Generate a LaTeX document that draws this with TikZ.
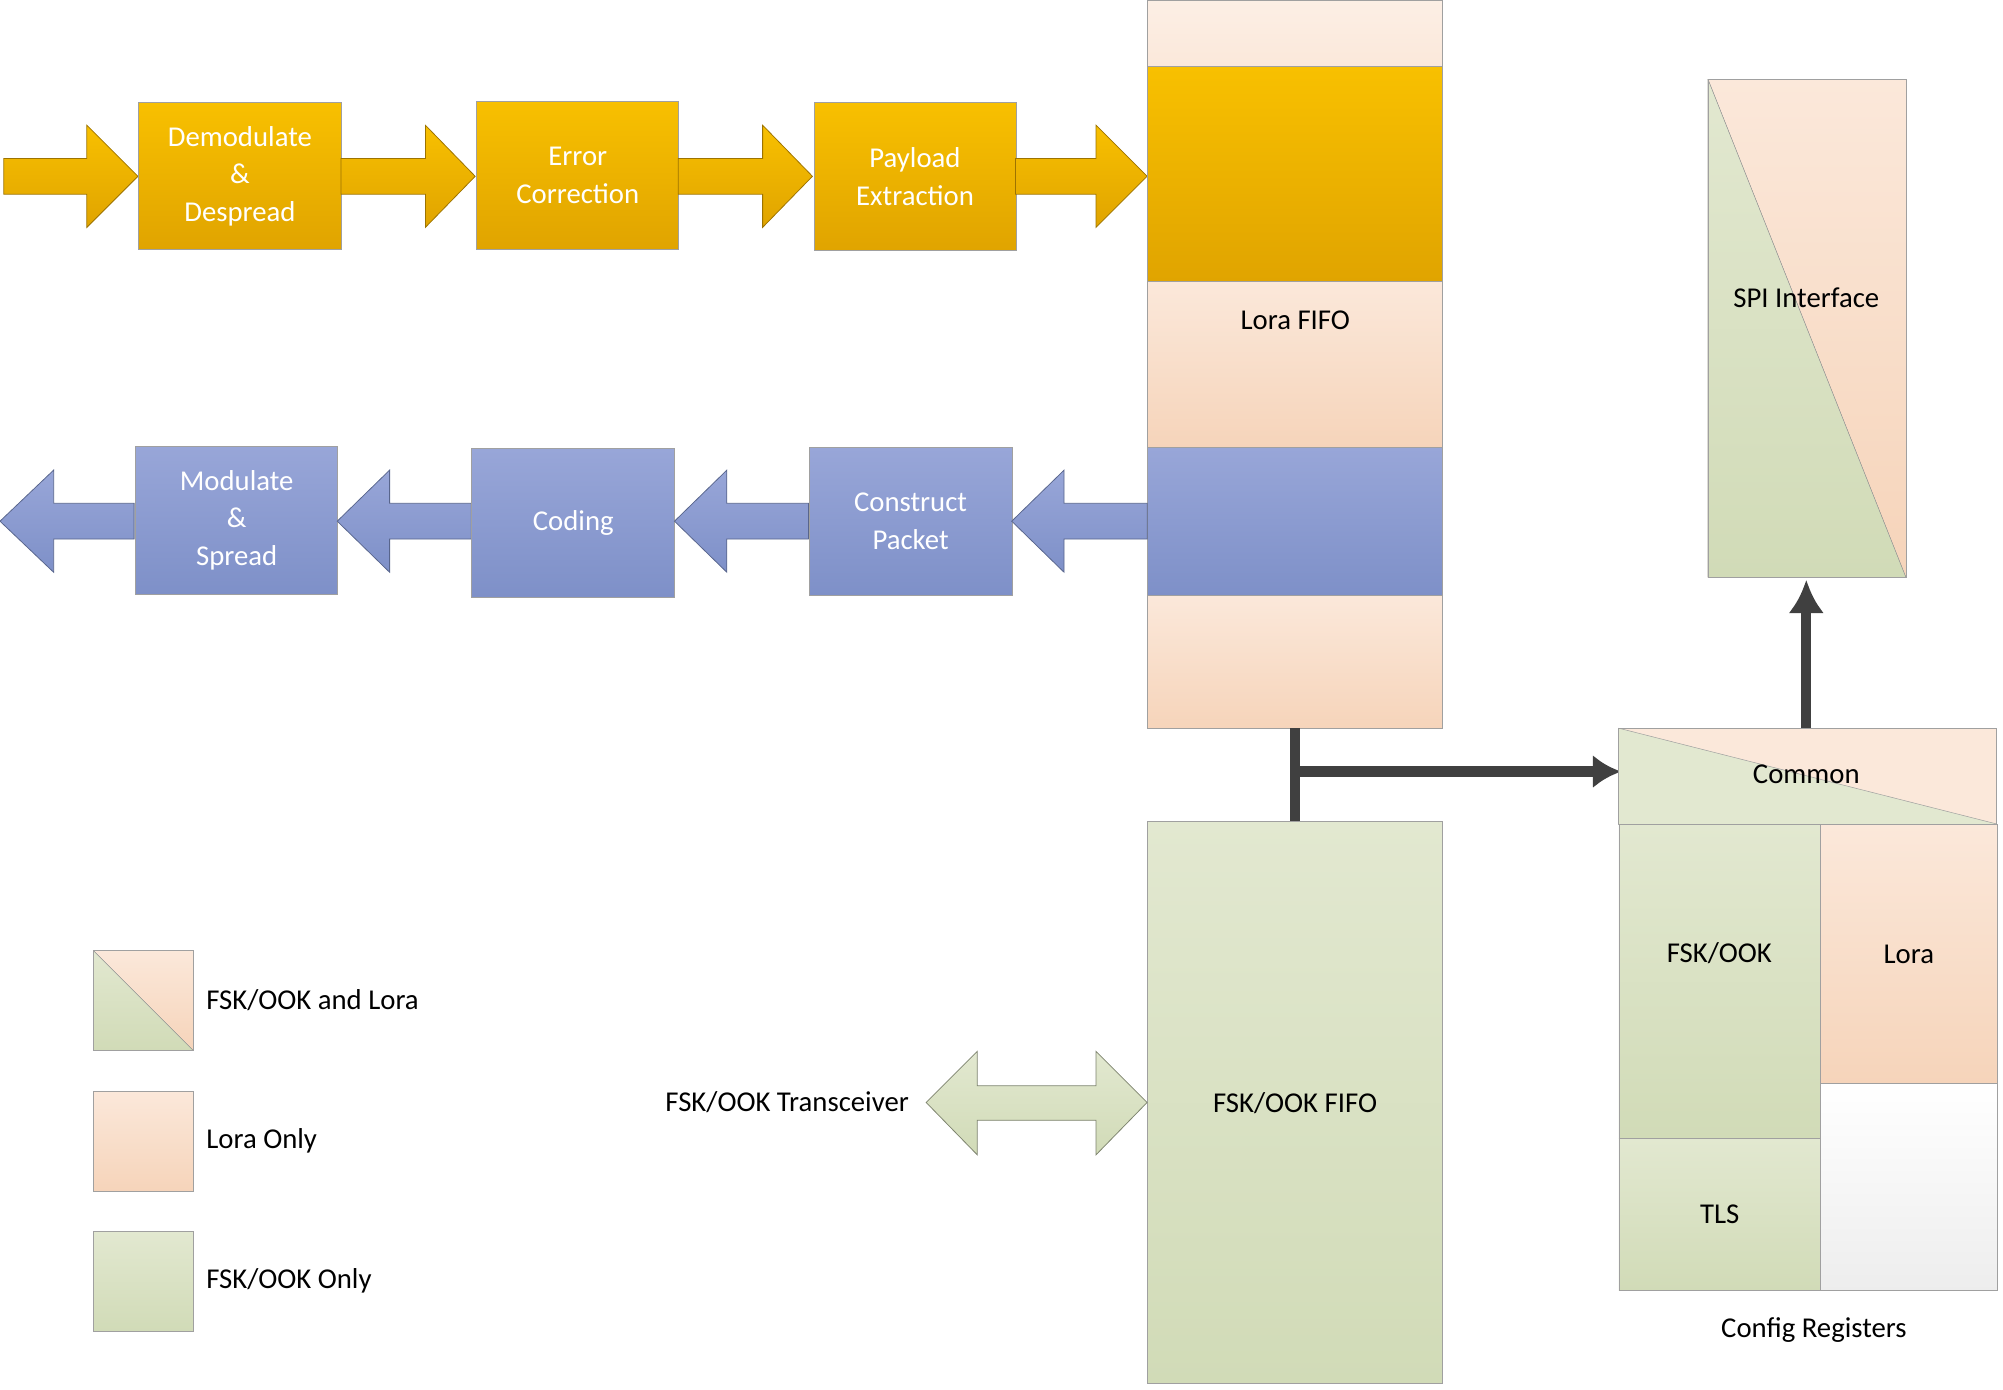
\documentclass[tikz,border=0pt]{standalone}
\usepackage{fontspec}
\setmainfont{Carlito}
\usetikzlibrary{arrows.meta}
\begin{document}
\definecolor{orT}{HTML}{F8C000}\definecolor{orB}{HTML}{E0A400}
\definecolor{blT}{HTML}{98A6D8}\definecolor{blB}{HTML}{7E90C8}
\definecolor{peT}{HTML}{FBE8DA}\definecolor{peB}{HTML}{F6D4BA}
\definecolor{grT}{HTML}{E2E8D0}\definecolor{grB}{HTML}{D1DBB7}
\definecolor{edge}{HTML}{A0A0A0}
\newcommand\myRA[5]{\path[draw=#5B!70!black,line width=0.6pt,top color=#5T,bottom color=#5B] (#1,#4-14)--(#3,#4-14)--(#3,#4-40)--(#2,#4)--(#3,#4+40)--(#3,#4+14)--(#1,#4+14)--cycle;}
\newcommand\myLA[5]{\path[draw=#5B!70!black,line width=0.6pt,top color=#5T,bottom color=#5B] (#2,#4-14)--(#3,#4-14)--(#3,#4-40)--(#1,#4)--(#3,#4+40)--(#3,#4+14)--(#2,#4+14)--cycle;}
\begin{tikzpicture}[x=1pt,y=-1pt,font=\fontsize{22.5}{29.5}\selectfont,
 box/.style={draw=edge,line width=0.6pt,anchor=north west,inner sep=0,align=center},
 or/.style={box,top color=orT,bottom color=orB,text=white},
 bl/.style={box,top color=blT,bottom color=blB,text=white},
 pe/.style={box,top color=peT,bottom color=peB},
 gr/.style={box,top color=grT,bottom color=grB},
 conn/.style={line width=8pt,draw=black!75}]
\useasboundingbox (0,0) rectangle (1568,1088);
% top row
\myRA{3}{108}{68}{138}{or}
\node[or,minimum width=159,minimum height=115] (dem) at (108,80) {Demodulate\\\&\\Despread};
\myRA{267}{372}{333}{138}{or}
\node[or,minimum width=158,minimum height=116] (err) at (373,79) {Error\\Correction};
\myRA{531}{636}{597}{138}{or}
\node[or,minimum width=158,minimum height=116] (pay) at (637,80) {Payload\\Extraction};
\myRA{795}{898}{858}{138}{or}
% Lora FIFO column
\node[box,top color=peT!70,bottom color=peT,minimum width=231,minimum height=52] (t0) at (898,0) {};
\node[or,minimum width=231,minimum height=168] (t1) at (898,52) {};
\node[pe,minimum width=231,minimum height=130,text=black] (lf) at (898,220) {};
\node at (1014,251) {Lora FIFO};
\node[bl,minimum width=231,minimum height=116] (t3) at (898,350) {};
\node[pe,minimum width=231,minimum height=104] (t4) at (898,466) {};
% blue row
\myLA{0}{105}{42}{408}{bl}
\node[bl,minimum width=158,minimum height=116] (mod) at (106,349) {Modulate\\\&\\Spread};
\myLA{264}{369}{305}{408}{bl}
\node[bl,minimum width=159,minimum height=116] (cod) at (369,351) {Coding};
\myLA{528}{633}{569}{408}{bl}
\node[bl,minimum width=159,minimum height=116] (con) at (633,350) {Construct\\Packet};
\myLA{792}{898}{833}{408}{bl}
% FSK FIFO
\node[gr,minimum width=231,minimum height=440] (ff) at (898,643) {FSK/OOK FIFO};
\path[draw=grB!60!black,line width=0.6pt,top color=grT,bottom color=grB] (765,850)--(858,850)--(858,823)--(898,863)--(858,904)--(858,877)--(765,877)--(765,904)--(725,863)--(765,823)--cycle;
\node[anchor=east] (tr) at (715,863) {FSK/OOK Transceiver};
% connectors
\coordinate (j) at (1014,604);
\draw[conn] (1014,570)--(1014,643);
\draw[conn,-{Latex[length=22pt,width=26pt]}] (j)--(1269,604);
% config registers
\fill[peT] (1267,570) rectangle (1563,645);
\fill[grT] (1267,570)--(1563,645)--(1267,645)--cycle;
\draw[edge] (1267,570)--(1563,645);
\draw[edge] (1267,570) rectangle (1563,645);
\node (com) at (1414,606) {Common};
\node[gr,minimum width=158,minimum height=246] (fsk) at (1267,645) {};
\node at (1346,746) {FSK/OOK};
\node[pe,minimum width=138,minimum height=203] (lo) at (1425,645) {Lora};
\node[box,top color=white,bottom color=black!7,minimum width=138,minimum height=162] (wh) at (1425,848) {};
\node[gr,minimum width=158,minimum height=119] (tls) at (1267,891) {TLS};
\node (cr) at (1420,1041) {Config Registers};
% SPI
\fill[top color=peT,bottom color=peB] (1337,62) rectangle (1492,452);
\fill[top color=grT,bottom color=grB] (1337,62)--(1492,452)--(1337,452)--cycle;
\draw[edge] (1337,62)--(1492,452);
\draw[edge] (1337,62) rectangle (1492,452);
\node (spi) at (1414,233) {SPI Interface};
\draw[conn,-{Latex[length=26pt,width=28pt]}] (1414,570)--(1414,454);
% legend
\fill[top color=peT,bottom color=peB] (73,744) rectangle (151,822);
\fill[top color=grT,bottom color=grB] (73,744)--(151,822)--(73,822)--cycle;
\draw[edge] (73,744)--(151,822);
\draw[edge] (73,744) rectangle (151,822);
\node[anchor=west] (l1) at (158,783) {FSK/OOK and Lora};
\node[pe,minimum width=78,minimum height=78] (b2) at (73,854) {};
\node[anchor=west] (l2) at (158,893) {Lora Only};
\node[gr,minimum width=78,minimum height=78] (b3) at (73,964) {};
\node[anchor=west] (l3) at (158,1003) {FSK/OOK Only};
\end{tikzpicture}
\end{document}
